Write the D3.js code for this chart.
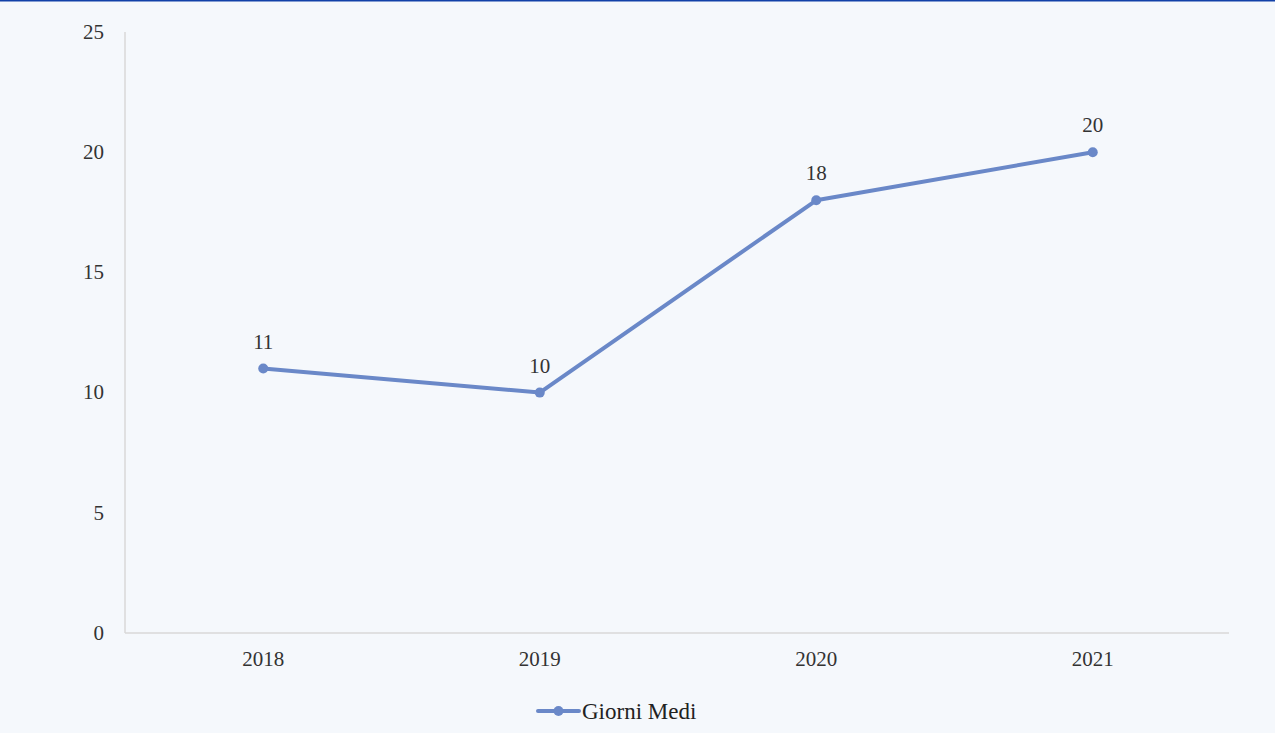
<!DOCTYPE html>
<html><head><meta charset="utf-8">
<script src="https://cdn.jsdelivr.net/npm/d3@7"></script>
<style>
html,body{margin:0;padding:0;background:#f5f8fc;}
svg{display:block;}
</style></head><body>
<svg id="chart" width="1275" height="733"></svg>
<script>
const categories = ["2018","2019","2020","2021"];
const values = [11,10,18,20];
const yTicks = [0,5,10,15,20,25];
const seriesName = "Giorni Medi";

const svg = d3.select("#chart");
const W = 1275, H = 733;
const color = "#6a88c8";
const font = "'Liberation Serif', 'DejaVu Serif', serif";

svg.append("rect").attr("width",W).attr("height",H).attr("fill","#f5f8fc");
svg.append("rect").attr("x",0).attr("y",0).attr("width",W).attr("height",1.5).attr("fill","#1240a8");

const x = d3.scaleBand().domain(categories).range([125,1231]);
const y = d3.scaleLinear().domain([0,25]).range([633,32]);

svg.append("line").attr("x1",125).attr("x2",125).attr("y1",y(25)).attr("y2",y(0))
  .attr("stroke","#d9d9d9").attr("stroke-width",1.5);
svg.append("line").attr("x1",125).attr("x2",1229).attr("y1",y(0)).attr("y2",y(0))
  .attr("stroke","#d9d9d9").attr("stroke-width",1.5);

const yAxis = d3.axisLeft(y).tickValues(yTicks).tickSize(0).tickPadding(0);
const gy = svg.append("g").attr("transform","translate(104,0)").call(yAxis);
gy.select(".domain").remove();
gy.selectAll("text").attr("font-family",font).attr("font-size",21).attr("fill","#333").attr("dy","0.3em");

const xAxis = d3.axisBottom(x).tickSize(0).tickPadding(0);
const gx = svg.append("g").attr("transform","translate(0,652)").call(xAxis);
gx.select(".domain").remove();
gx.selectAll("text").attr("font-family",font).attr("font-size",21).attr("fill","#333").attr("dy","0.66em");

const cx = d => x(d) + x.bandwidth()/2;
const line = d3.line().x((d,i)=>cx(categories[i])).y(d=>y(d));
svg.append("path").datum(values).attr("d",line).attr("fill","none")
  .attr("stroke",color).attr("stroke-width",4).attr("stroke-linejoin","round");

svg.selectAll("circle.pt").data(values).enter().append("circle")
  .attr("class","pt").attr("cx",(d,i)=>cx(categories[i])).attr("cy",d=>y(d)).attr("r",5)
  .attr("fill",color);

svg.selectAll("text.lbl").data(values).enter().append("text")
  .attr("class","lbl").attr("x",(d,i)=>cx(categories[i])).attr("y",d=>y(d)-20)
  .attr("text-anchor","middle").attr("font-family",font).attr("font-size",21).attr("fill","#333")
  .text(d=>d);

const lg = svg.append("g").attr("transform","translate(538,711)");
lg.append("line").attr("x1",0).attr("x2",41).attr("y1",0).attr("y2",0)
  .attr("stroke",color).attr("stroke-width",4).attr("stroke-linecap","round");
lg.append("circle").attr("cx",20.5).attr("cy",0).attr("r",5).attr("fill",color);
lg.append("text").attr("x",44).attr("y",0).attr("dy","0.33em")
  .attr("font-family",font).attr("font-size",23).attr("fill","#222").text(seriesName);
</script>
</body></html>
